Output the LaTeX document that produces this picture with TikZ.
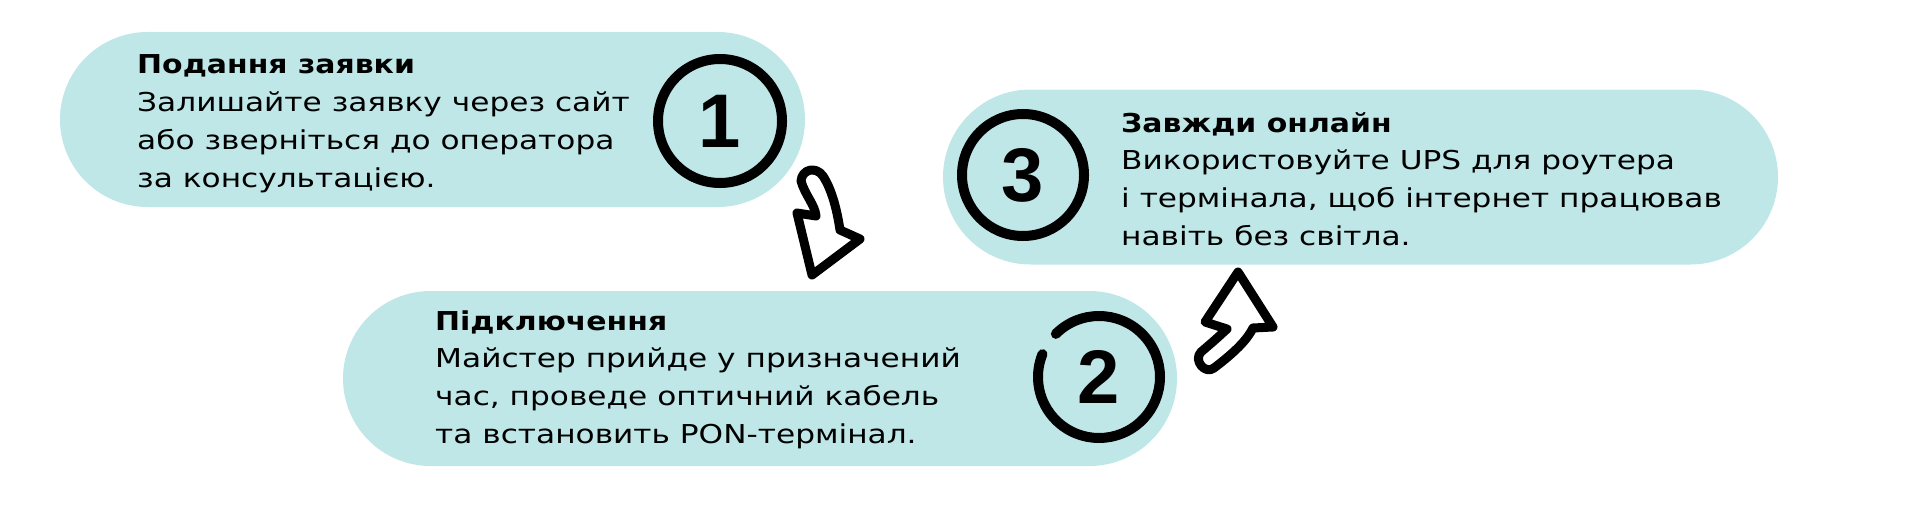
\documentclass[tikz,border=0pt]{standalone}
\usepackage{fontspec}
\setmainfont[FakeStretch=1.2, BoldFeatures={FakeStretch=1.15}]{DejaVu Sans}
\newfontfamily\digitfont{Liberation Sans}
\usepackage{xcolor}
\usetikzlibrary{positioning,shapes.misc}

\definecolor{pillteal}{RGB}{191,231,232}
\tikzset{
  pill/.style={rounded rectangle, fill=pillteal, minimum height=175, inner sep=0},
  ring/.style={line width=10, line cap=round},
  stepnum/.style={font=\digitfont\bfseries\fontsize{76}{76}\selectfont},
  steptext/.style={align=left, anchor=base west, inner sep=0, font=\fontsize{26}{37.8}\selectfont},
  twist/.style={fill=white, draw=black, line width=9, line join=round},
}

\begin{document}
\begin{tikzpicture}[x=1pt,y=-1pt]
    \useasboundingbox (0,0) rectangle (1905,511);

    % the three steps
    \node[pill, minimum width=745] (pill1) at (432.5,119.5) {};
    \node[pill, minimum width=834] (pill2) at (760,378.5) {};
    \node[pill, minimum width=835] (pill3) at (1360.5,177) {};

    \coordinate (c1) at (720,121);
    \coordinate (c2) at (1099,377);
    \coordinate (c3) at (1023,175);

    \draw[ring] (c1) circle (62);
    \draw[ring] (c2) ++(225:61) arc[start angle=225, end angle=562, radius=61];
    \draw[ring] (c3) circle (61);

    \node[stepnum] (n1) at (c1) {1};
    \node[stepnum] (n2) at (c2) {2};
    \node[stepnum] (n3) at (c3) {3};

    % base of each text node = its last line
    \node[steptext] (txt1) at (137,187) {\textbf{Подання заявки}\\Залишайте заявку через сайт\\або зверніться до оператора\\за консультацією.};
    \node[steptext] (txt2) at (435,443.5) {\textbf{Підключення}\\Майстер прийде у призначений\\час, проведе оптичний кабель\\та встановить PON-термінал.};
    \node[steptext] (txt3) at (1121,245.5) {\textbf{Завжди онлайн}\\Використовуйте UPS для роутера\\і термінала, щоб інтернет працював\\навіть без світла.};

    % twisted arrows 1 -> 2 and 2 -> 3
    \draw[twist] (801,181) .. controls (805,195) and (815,205) .. (816,216) -- (797,213) -- (812,275)
        -- (860,239) -- (840,230) .. controls (837,210) and (832,190) .. (823,176)
        .. controls (816,166) and (802,169) .. (801,181) -- cycle;
    \draw[twist] (1238,272) -- (1205,322) -- (1227,329) .. controls (1215,340) .. (1201,352)
        .. controls (1193,360) and (1205,375) .. (1214,368)
        .. controls (1235,352) and (1247,340) .. (1253,328) -- (1273,327) -- cycle;
\end{tikzpicture}
\end{document}
